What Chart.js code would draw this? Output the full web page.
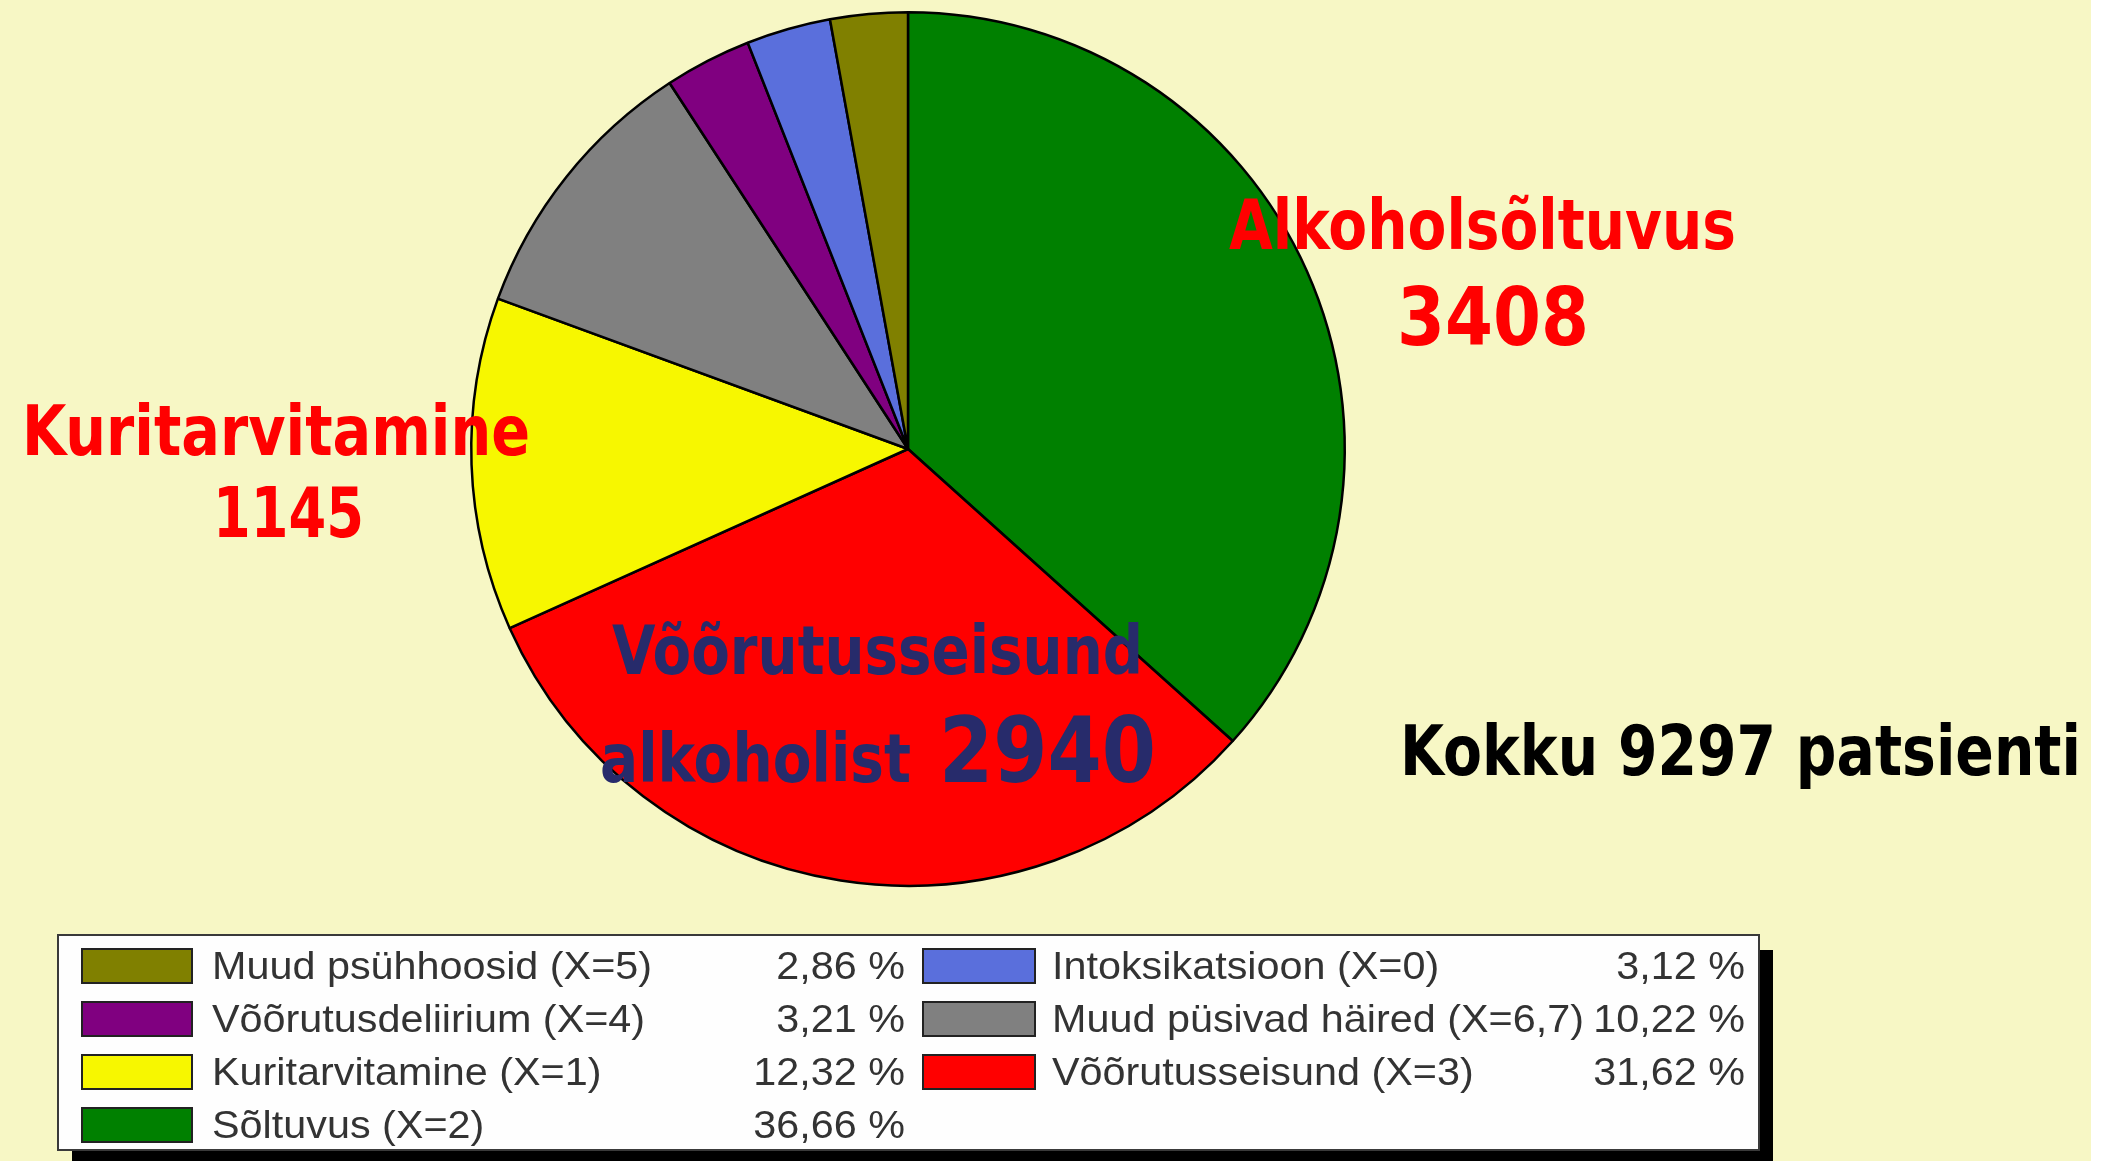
<!DOCTYPE html>
<html lang="et">
<head>
<meta charset="utf-8">
<title>Alkoholiga seotud häired</title>
<script src="https://cdn.jsdelivr.net/npm/chart.js@4.4.1/dist/chart.umd.min.js"></script>
<style>
  html, body { margin: 0; padding: 0; background: #ffffff; overflow: hidden; }
  #wrap { width: 2113px; height: 1161px; }
</style>
</head>
<body>
<div id="wrap"><canvas id="pie" width="2113" height="1161"></canvas></div>
<script>
// Slices, clockwise from 12 o'clock
const categories = [
    'Sõltuvus (X=2)',
    'Võõrutusseisund (X=3)',
    'Kuritarvitamine (X=1)',
    'Muud püsivad häired (X=6,7)',
    'Võõrutusdeliirium (X=4)',
    'Intoksikatsioon (X=0)',
    'Muud psühhoosid (X=5)'
];
const shares = [36.66, 31.62, 12.32, 10.22, 3.21, 3.12, 2.86];
const sliceColors = ['#008000', '#ff0000', '#f7f700', '#808080', '#800080', '#5a6fdc', '#808000'];

// legend box lists them column by column in this order
const legendOrder = [6, 4, 2, 0, 5, 3, 1];

// big callouts on the slide
const calloutNames = ['Alkoholsõltuvus', 'Kuritarvitamine', 'Võõrutusseisund', 'alkoholist'];
const calloutCounts = [3408, 1145, 2940];
const totalPatients = 9297;

function fmtShare(v) {
    return v.toFixed(2).replace('.', ',') + ' %';
}

// draw text squeezed/stretched to a given width
function fitText(ctx, text, x, y, width, font, color) {
    ctx.save();
    ctx.font = font;
    ctx.fillStyle = color;
    ctx.textAlign = 'left';
    ctx.textBaseline = 'alphabetic';
    const w = ctx.measureText(text).width;
    ctx.translate(x, y);
    ctx.scale(width / w, 1);
    ctx.fillText(text, 0, 0);
    ctx.restore();
}

function plainText(ctx, text, x, y, align, sx) {
    ctx.save();
    ctx.textAlign = align;
    ctx.translate(x, y);
    ctx.scale(sx, 1);
    ctx.fillText(text, 0, 0);
    ctx.restore();
}

const slidePlugin = {
    id: 'slide',
    beforeDraw(chart) {
        const ctx = chart.ctx;
        ctx.save();
        ctx.fillStyle = '#ffffff';
        ctx.fillRect(0, 0, chart.width, chart.height);
        ctx.fillStyle = '#f7f7c5';
        ctx.fillRect(0, 0, 2091, chart.height);
        ctx.restore();
    },
    afterDraw(chart) {
        const ctx = chart.ctx;
        const bold = (px) => 'bold ' + px + 'px "DejaVu Sans", sans-serif';
        const red = '#ff0000';
        const navy = '#272b6b';

        // callouts
        fitText(ctx, calloutNames[0], 1229, 249, 507, bold(69), red);
        fitText(ctx, String(calloutCounts[0]), 1397, 345, 192, bold(81), red);
        fitText(ctx, calloutNames[1], 22, 455, 508, bold(69), red);
        fitText(ctx, String(calloutCounts[1]), 213, 537, 151, bold(69), red);
        fitText(ctx, calloutNames[2], 612, 674, 531, bold(67), navy);
        fitText(ctx, calloutNames[3], 600, 782, 311, bold(67), navy);
        fitText(ctx, String(calloutCounts[2]), 939, 782, 217, bold(91), navy);
        fitText(ctx, 'Kokku ' + totalPatients + ' patsienti', 1400, 775, 681, bold(70), '#000000');

        // legend box with drop shadow
        const box = { l: 58, t: 935, r: 1759, b: 1150 };
        ctx.save();
        ctx.fillStyle = '#000000';
        ctx.fillRect(box.l + 14, box.t + 15, box.r - box.l, box.b - box.t + 11);
        ctx.fillStyle = '#fefefe';
        ctx.fillRect(box.l, box.t, box.r - box.l, box.b - box.t);
        ctx.strokeStyle = '#3a3a3a';
        ctx.lineWidth = 2;
        ctx.strokeRect(box.l, box.t, box.r - box.l, box.b - box.t);

        const cols = [
            { sw: 82, swW: 110, text: 212, pct: 905 },
            { sw: 923, swW: 112, text: 1052, pct: 1745 }
        ];
        const rowBase = [979, 1032, 1085, 1138];
        ctx.font = '39px "Liberation Sans", Arial, sans-serif';
        ctx.textBaseline = 'alphabetic';
        legendOrder.forEach((idx, k) => {
            const c = cols[k < 4 ? 0 : 1];
            const y = rowBase[k % 4];
            ctx.fillStyle = sliceColors[idx];
            ctx.fillRect(c.sw, y - 30, c.swW, 34);
            ctx.strokeStyle = '#222222';
            ctx.lineWidth = 2;
            ctx.strokeRect(c.sw, y - 30, c.swW, 34);
            ctx.fillStyle = '#333333';
            plainText(ctx, categories[idx], c.text, y, 'left', 1.06);
            plainText(ctx, fmtShare(shares[idx]), c.pct, y, 'right', 1.06);
        });
        ctx.restore();
    }
};

const ctx = document.getElementById('pie').getContext('2d');
new Chart(ctx, {
    type: 'pie',
    data: {
        labels: categories,
        datasets: [{
            data: shares,
            backgroundColor: sliceColors,
            borderColor: '#000000',
            borderWidth: 2.5
        }]
    },
    options: {
        responsive: false,
        animation: false,
        // pie centred at (908, 449), radius ~437
        layout: { padding: { left: 470, right: 767, top: 11, bottom: 274 } },
        plugins: {
            legend: { display: false },
            tooltip: { enabled: false },
            title: { display: false }
        }
    },
    plugins: [slidePlugin]
});
</script>
</body>
</html>
